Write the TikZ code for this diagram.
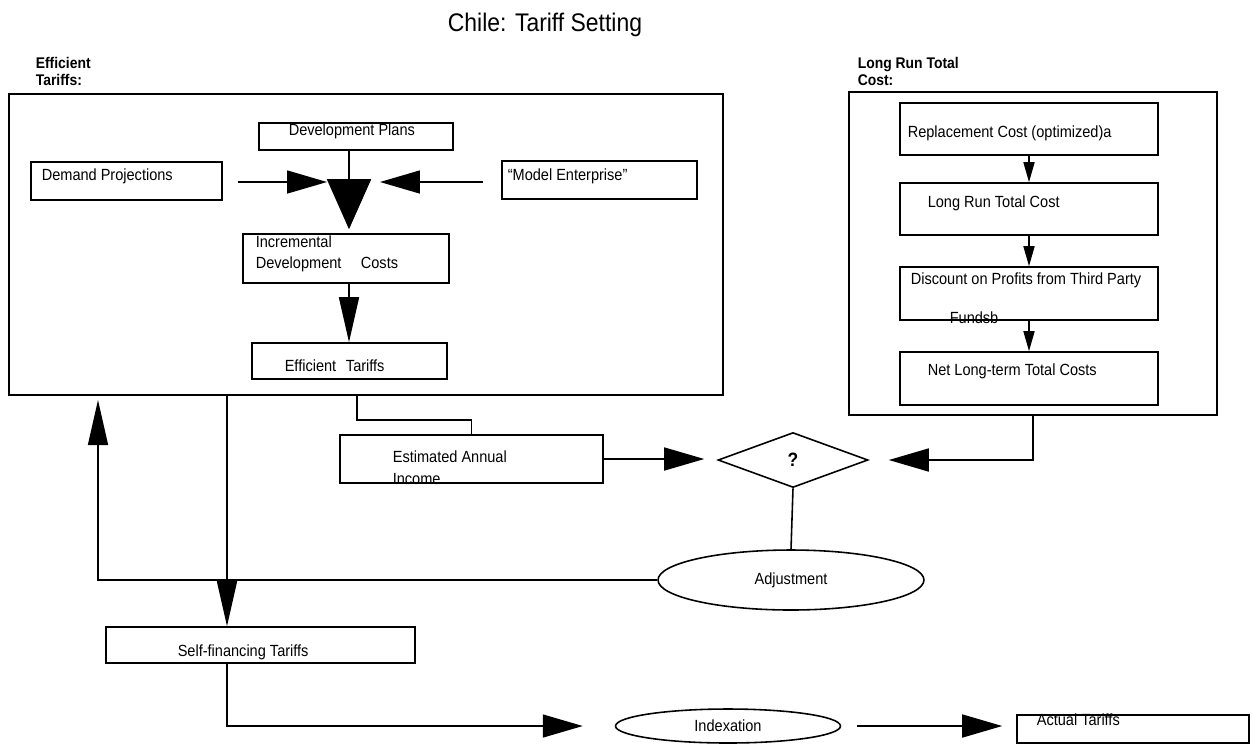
\documentclass[tikz,border=0pt]{standalone}
\usepackage{fontspec}
\setmainfont{Liberation Sans}[FakeStretch=0.9]
\usetikzlibrary{arrows.meta,shapes.geometric,fit}

\begin{document}
\begin{tikzpicture}
        [x=0.02cm, y=-0.02cm, line width=0.9pt,
        every node/.style={font=\fontsize{9.2}{11}\selectfont},
        box/.style={draw, rectangle, inner sep=0pt, line width=0.9pt},
        txt/.style={inner sep=0pt, anchor=base west},
        grouplabel/.style={inner sep=0pt, anchor=base west, font=\fontsize{8.8}{10}\selectfont\bfseries},
        bigtri/.style={-{Triangle[length=0.8cm,width=0.46cm]}},
        widetri/.style={-{Triangle[length=1cm,width=0.88cm]}},
        longtri/.style={-{Triangle[length=0.9cm,width=0.4cm]}},
        smalltri/.style={-{Triangle[length=0.4cm,width=0.22cm]}}]
        \useasboundingbox (0,0) rectangle (1253,745);
        \node[font=\fontsize{14.5}{17}\selectfont, anchor=base] (title) at (545,31) {Chile: Tariff Setting};
        % efficient tariffs
        \node[grouplabel] (efflbl) at (35,68) {Efficient};
        \node[grouplabel] (efflblb) at (35,85) {Tariffs:};
        \node[box, fit={(9,94) (723,395)}] (outerL) {};
        \node[box, fit={(259,123) (453,150)}] (devplans) {};
        \node[txt] (devplanstxt) at (288,135) {Development Plans};
        \node[box, fit={(31,162) (222,200)}] (demand) {};
        \node[txt] (demandtxt) at (41,180) {Demand Projections};
        \node[box, fit={(502,161) (697,199)}] (model) {};
        \node[txt] (modeltxt) at (507,180) {``Model Enterprise''};
        \node[box, fit={(243,234) (449,283)}] (incr) {};
        \node[txt] (incrtxt) at (255,247) {Incremental};
        \node[txt] (incrtxtb) at (255,268) {Development\hspace{1.2em}Costs};
        \node[box, fit={(252,343) (447,379)}] (eff) {};
        \node[txt] (efftxt) at (284,371) {Efficient\hspace{0.6em}Tariffs};
        \coordinate (meet) at (349,182);
        \draw[widetri, shorten >=0.08cm] (devplans.south -| meet) -- (incr.north -| meet);
        \draw[bigtri, shorten <=0.3cm, shorten >=0.44cm] (demand.east |- meet) -- (meet);
        \draw[bigtri, shorten <=0.36cm, shorten >=0.62cm] (model.west |- meet) -- (meet);
        \draw[longtri] (incr.south -| meet) -- (eff.north -| meet);
        % long run total cost
        \node[grouplabel] (lrclbl) at (857,68) {Long Run Total};
        \node[grouplabel] (lrclblb) at (857,85) {Cost:};
        \node[box, fit={(849,92) (1217,415)}] (outerR) {};
        \node[box, fit={(900,103) (1158,155)}] (repl) {};
        \node[txt] (repltxt) at (907,137) {Replacement Cost (optimized)a};
        \node[box, fit={(900,183) (1158,235)}] (lrtc) {};
        \node[txt] (lrtctxt) at (927,207) {Long Run Total Cost};
        \node[box, fit={(900,267) (1158,320)}] (disc) {};
        \node[txt] (disctxt) at (910,284) {Discount on Profits from Third Party};
        \node[txt] (disctxtb) at (949,323) {Fundsb};
        \node[box, fit={(900,352) (1158,405)}] (net) {};
        \node[txt] (nettxt) at (927,375) {Net Long-term Total Costs};
        \draw[smalltri] (repl.south) -- (lrtc.north);
        \draw[smalltri] (lrtc.south) -- (disc.north);
        \draw[smalltri] (disc.south) -- (net.north);
        % comparison and adjustment
        \node[box, fit={(340,435) (603,483)}] (est) {};
        \node[txt] (esttxt) at (392,462) {Estimated Annual};
        \node[txt] (esttxtb) at (392,484) {Income};
        \node[draw, diamond, minimum width=3cm, minimum height=1.1cm, inner sep=0pt,
          font=\fontsize{11}{13}\selectfont\bfseries] (q) at (793,460) {?};
        \node[draw, ellipse, minimum width=5.32cm, minimum height=1.2cm, inner sep=0pt] (adj) at (791,580) {Adjustment};
        \coordinate (tap) at (357,395);
        \coordinate (split) at (227,395);
        \coordinate (fb) at (98,400);
        \draw (tap) -- ++(0,25) -| (est.north);
        \draw[bigtri, shorten >=0.26cm] (est.east) -- (est.east -| q.west);
        \draw[bigtri, shorten >=0.4cm] (outerR.south) |- (q.east);
        \draw (q.south) -- (adj.north);
        \draw[longtri] (adj.west) -| (fb);
        % self-financing and indexation
        \node[box, fit={(106,627) (415,663)}] (self) {};
        \node[txt] (selftxt) at (177,656) {Self-financing Tariffs};
        \node[draw, ellipse, minimum width=4.5cm, minimum height=0.68cm, inner sep=0pt] (idx) at (728,726) {Indexation};
        \node[box, fit={(1017,715) (1249,743)}] (actual) {};
        \node[txt] (actualtxt) at (1036,725) {Actual Tariffs};
        \draw[longtri] (split) -- (split |- self.north);
        \draw[bigtri, shorten >=0.64cm] (split |- self.south) |- (idx.west);
        \draw[bigtri, shorten <=0.32cm, shorten >=0.28cm] (idx.east) -- (idx.east -| actual.west);
      \end{tikzpicture}
\end{document}
